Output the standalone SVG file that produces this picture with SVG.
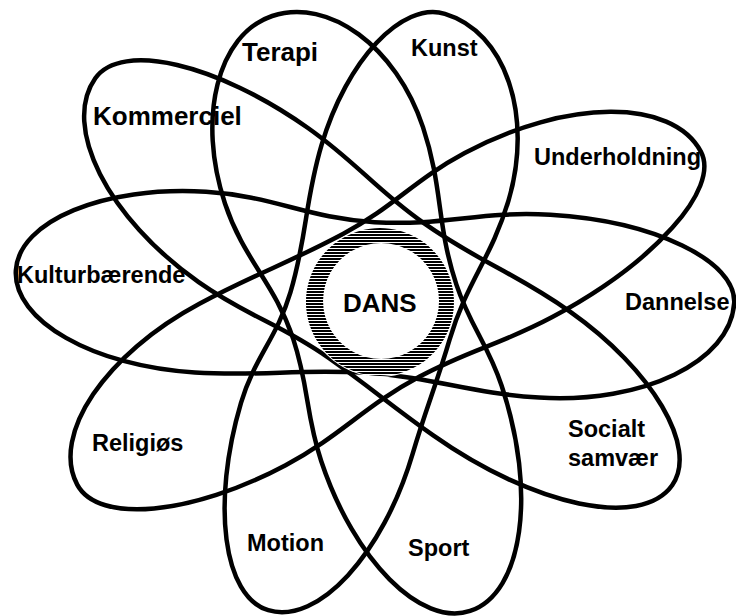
<svg xmlns="http://www.w3.org/2000/svg" width="736" height="616" viewBox="0 0 736 616">
  <defs>
    <style>
      .loop { fill: none; stroke: #000; stroke-width: 4.5; stroke-linejoin: round; }
      .lbl { font-family: "Liberation Sans", Arial, sans-serif; font-weight: bold; font-size: 23.5px; fill: #000; }
      .big { font-size: 26px; }
    </style>
    <pattern id="hatch" patternUnits="userSpaceOnUse" width="8" height="3">
      <rect x="0" y="0" width="8" height="2" fill="#000"/>
    </pattern>
  </defs>
  <rect x="0" y="0" width="736" height="616" fill="#fff"/>

  <g id="loops">
    <g id="loop-kulturbaerende-dannelse" transform="translate(370 295) rotate(3.5)">
      <path class="loop" d="M364,-14 C364,-56.5 279.3,-91 175,-91 C105,-91 70,-73 0,-73 C-68,-73 -102,-93 -170,-93 C-272.1,-93 -355,-52.7 -355,-3 C-355,47.2 -272.1,88 -170,88 C-102,88 -68,78 0,78 C70,78 105,92 175,92 C279.3,92 364,44.5 364,-14 Z"/>
    </g>
    <g id="loop-kommerciel-socialt" transform="translate(376 291) rotate(35.2)">
      <path class="loop" d="M354,-12 C354,-57.8 271.6,-95 170,-95 C102,-95 68,-83 0,-83 C-60,-83 -90,-94 -150,-94 C-261.5,-94 -352,-57.3 -352,-12 C-352,47 -261.5,95 -150,95 C-90,95 -60,82 0,82 C52,82 78,85 130,85 C253.6,85 354,41.5 354,-12 Z"/>
    </g>
    <g id="loop-terapi-sport" transform="translate(371 313) rotate(71.6)">
      <path class="loop" d="M314,0 C314,-55.8 222.6,-101 110,-101 C66,-101 44,-90 0,-90 C-64,-90 -96,-108 -160,-108 C-244.5,-108 -313,-59.6 -313,0 C-313,57.4 -240,104 -150,104 C-90,104 -60,82 0,82 C50,82 75,94 125,94 C229.3,94 314,51.9 314,0 Z"/>
    </g>
    <g id="loop-kunst-motion" transform="translate(370 316) rotate(106.5)">
      <path class="loop" d="M311,14 C311,-37.9 225.4,-80 120,-80 C72,-80 48,-83 0,-83 C-60,-83 -90,-100 -150,-100 C-238.9,-100 -311,-48.9 -311,14 C-311,58.7 -238.9,95 -150,95 C-90,95 -60,83 0,83 C48,83 72,99 120,99 C225.4,99 311,60.9 311,14 Z"/>
    </g>
    <g id="loop-underholdning-religioes" transform="translate(382 306) rotate(-28.1)">
      <path class="loop" d="M354,14 C354,-46.7 260.4,-96 145,-96 C87,-96 58,-82 0,-82 C-64,-82 -96,-88 -160,-88 C-266.5,-88 -353,-42.3 -353,14 C-353,58.7 -266.5,95 -160,95 C-96,95 -64,80 0,80 C58,80 87,90 145,90 C260.4,90 354,56 354,14 Z"/>
    </g>
  </g>

  <g id="node-dans">
    <circle cx="380" cy="302" r="75" fill="#fff"/>
    <path d="M380,228 A74,74 0 1 1 379.9,228 Z M381,243 A58,58 0 1 0 381.1,243 Z" fill="url(#hatch)" fill-rule="evenodd"/>
    <text class="lbl big" x="343" y="312">DANS</text>
  </g>

  <g id="label-terapi"><text class="lbl big" x="242" y="61">Terapi</text></g>
  <g id="label-kunst"><text class="lbl" x="411" y="56">Kunst</text></g>
  <g id="label-kommerciel"><text class="lbl big" x="93" y="125">Kommerciel</text></g>
  <g id="label-underholdning"><text class="lbl" x="534" y="165">Underholdning</text></g>
  <g id="label-kulturbaerende"><text class="lbl" x="17" y="283">Kulturbærende</text></g>
  <g id="label-dannelse"><text class="lbl" x="625" y="310">Dannelse</text></g>
  <g id="label-religioes"><text class="lbl" x="92" y="451">Religiøs</text></g>
  <g id="label-socialt"><text class="lbl" x="568" y="437">Socialt</text><text class="lbl" x="568" y="466">samvær</text></g>
  <g id="label-motion"><text class="lbl" x="247" y="551">Motion</text></g>
  <g id="label-sport"><text class="lbl" x="408" y="556">Sport</text></g>
</svg>
